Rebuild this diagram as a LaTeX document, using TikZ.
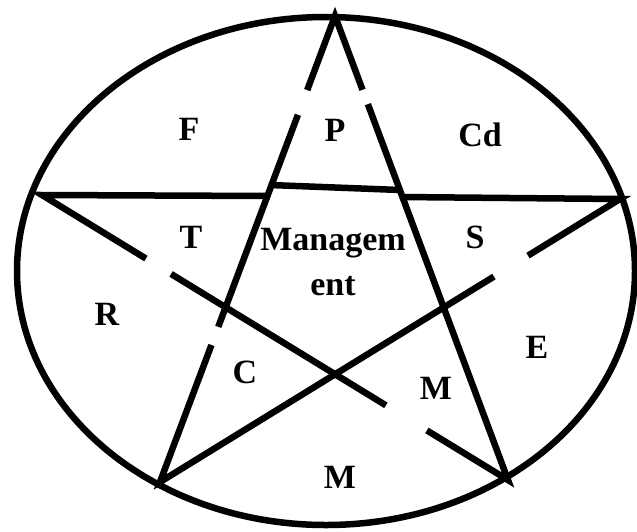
\documentclass[tikz,border=0pt]{standalone}
\usepackage{fontspec}
\setmainfont{Liberation Serif}
\usetikzlibrary{calc}

\begin{document}
\begin{tikzpicture}[x=1pt, y=-1pt]
    % Styles
    \tikzstyle{rim} = [line width=6.5pt]
    \tikzstyle{edge} = [line width=6.5pt, line join=miter]
    \tikzstyle{letter} = [inner sep=0pt, font=\fontsize{34}{45}\selectfont\bfseries]

    \useasboundingbox (0,0) rectangle (637,531);

    % Star points
    \coordinate (top) at (335,16);
    \coordinate (left) at (42,195);
    \coordinate (right) at (620,199);
    \coordinate (botleft) at (160,482);
    \coordinate (botright) at (508,480);

    % Outer ring
    \draw[rim] (326,271) ellipse (309pt and 254pt);

    % Star, broken where the letters sit
    \draw[edge] ($(top)!0.159!(botleft)$) -- (top) -- ($(top)!0.159!(botright)$);
    \draw[edge] ($(top)!0.19!(botright)$) -- (botright) -- ($(left)!0.826!(botright)$);
    \draw[edge] ($(left)!0.223!(botright)$) -- (left) -- (270,196);
    \draw[edge] (270,185) -- (400,190);
    \draw[edge] (400,197) -- (right) -- ($(right)!0.2!(botleft)$);
    \draw[edge] ($(right)!0.274!(botleft)$) -- (botleft) -- ($(top)!0.706!(botleft)$);
    \draw[edge] ($(top)!0.212!(botleft)$) -- ($(top)!0.667!(botleft)$);
    \draw[edge] ($(left)!0.277!(botright)$) -- ($(left)!0.738!(botright)$);

    % Letters
    \node (f) [letter] at (189,129) {F};
    \node (p) [letter] at (335,130) {P};
    \node (cd) [letter] at (480,135) {Cd};
    \node (t) [letter] at (191,237) {T};
    \node (s) [letter] at (475,237) {S};
    \node (mgmt) [letter, align=center] at (333,262) {Managem\\ent};
    \node (r) [letter] at (107,314) {R};
    \node (e) [letter] at (537,347) {E};
    \node (c) [letter] at (245,372) {C};
    \node (minner) [letter] at (436,388) {M};
    \node (mouter) [letter] at (340,477) {M};
\end{tikzpicture}
\end{document}
